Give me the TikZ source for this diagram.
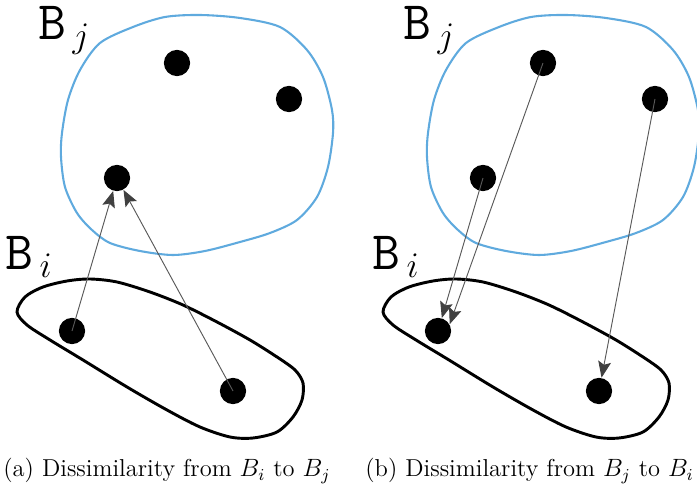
\documentclass[tikz,border=0pt]{standalone}
\usepackage{amsmath}
\usepackage{tikz}
\usetikzlibrary{arrows.meta}
\definecolor{setblue}{RGB}{95,170,222}

\begin{document}
\begin{tikzpicture}[x=0.48pt,y=-0.48pt,
  pt/.style={circle,fill=black,inner sep=0pt,minimum size=12.6pt},
  dis/.style={draw=black!65,line width=0.45pt,-{Stealth[length=7.8pt,width=6.2pt,inset=1.5pt,color=black!75]}},
  setlab/.style={anchor=base west,inner sep=0pt,font=\fontsize{26}{30}\selectfont},
  subcap/.style={anchor=base west,inner sep=0pt,font=\fontsize{11.75}{14}\selectfont}]
  \useasboundingbox (0,0) rectangle (697,488); % 画像全体の範囲
  \foreach \dx in {0,366} {
    \draw[setblue,line width=1pt,shift={(\dx,0)}] plot[smooth cycle] coordinates
      {(200,15) (240,18) (280,27) (307,50) (323,77) (332,110) (333,133) (328,167) (317,197) (297,220) (270,233) (240,242) (205,251) (173,255) (140,251) (110,243) (92,230) (77,213) (65,187) (61,157) (62,133) (68,100) (80,70) (100,43) (133,27) (165,17)}; % 集合 B_j の輪郭（青）
    \draw[black,line width=1.4pt,shift={(\dx,0)}] plot[smooth cycle] coordinates
      {(17,312) (25,297) (43,287) (67,281) (90,279) (117,282) (150,292) (183,305) (217,322) (250,340) (277,357) (295,370) (303,383) (302,400) (293,417) (277,432) (253,438) (230,437) (200,427) (167,410) (127,387) (83,360) (50,340) (27,325)}; % 集合 B_i の輪郭（黒）
  }
  \node[setlab] (labjl) at (38,40) {\texttt{B}\hspace{3pt}$_{j}$}; % 左図のラベル B_j
  \node[setlab] (labil) at (5,270) {\texttt{B}\hspace{3pt}$_{i}$}; % 左図のラベル B_i
  \node[setlab] (labjr) at (403,40) {\texttt{B}\hspace{3pt}$_{j}$}; % 右図のラベル B_j
  \node[setlab] (labir) at (372,270) {\texttt{B}\hspace{3pt}$_{i}$}; % 右図のラベル B_i
  % 左図の点
  \node[pt] (a1) at (72,331) {};
  \node[pt] (a2) at (233,391) {};
  \node[pt] (b1) at (177,63) {};
  \node[pt] (b2) at (289,99) {};
  \node[pt] (b3) at (117,178) {};
  % 右図の点
  \node[pt] (c1) at (438,331) {};
  \node[pt] (c2) at (599,391) {};
  \node[pt] (d1) at (543,63) {};
  \node[pt] (d2) at (655,99) {};
  \node[pt] (d3) at (483,178) {};
  \draw[dis] (a1.center) -- (b3); % B_i から B_j への最近点
  \draw[dis] (a2.center) -- (b3);
  \draw[dis] (d3.center) -- (c1); % B_j から B_i への最近点
  \draw[dis] (d1.center) -- (c1.30);
  \draw[dis] (d2.center) -- (c2);
  \node[subcap] (capa) at (3,477) {(a) Dissimilarity from $B_i$ to $B_j$}; % 左図の見出し
  \node[subcap] (capb) at (365,477) {(b) Dissimilarity from $B_j$ to $B_i$}; % 右図の見出し（右端で切れる）
\end{tikzpicture}
\end{document}
